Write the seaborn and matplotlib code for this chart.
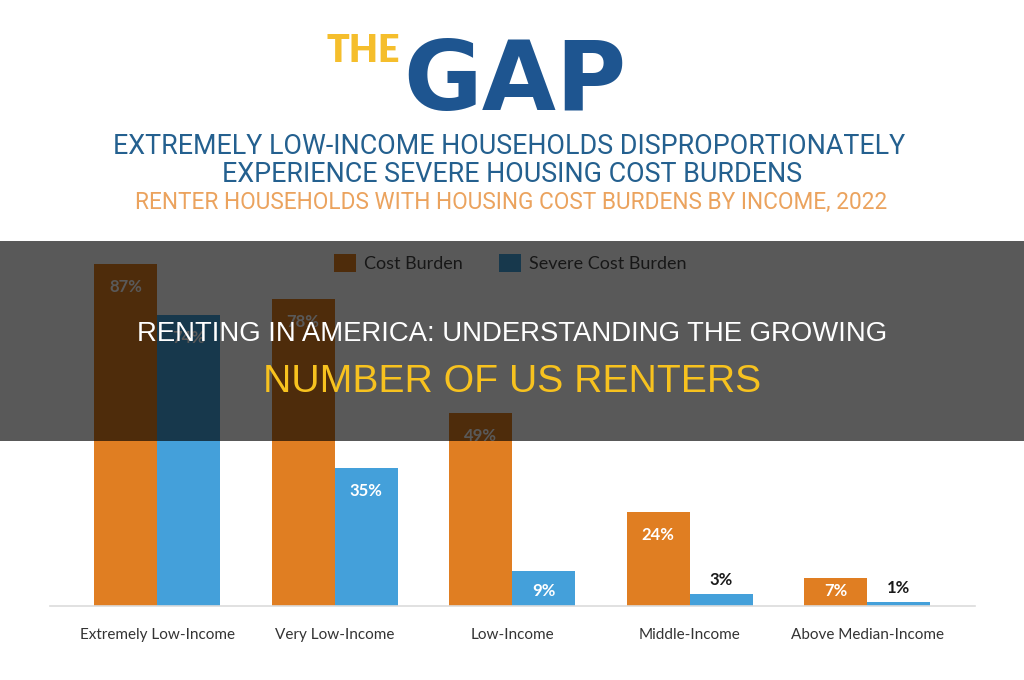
import matplotlib
matplotlib.use("Agg")
import matplotlib.pyplot as plt
import seaborn as sns
import pandas as pd
from matplotlib.patches import Rectangle, Patch

categories = ["Extremely Low-Income", "Very Low-Income", "Low-Income",
              "Middle-Income", "Above Median-Income"]
cost_burden = [87, 78, 49, 24, 7]
severe_burden = [74, 35, 9, 3, 1]
series_names = ["Cost Burden", "Severe Cost Burden"]
value_labels_cost = ["87%", "78%", "49%", "24%", "7%"]
value_labels_severe = ["74%", "35%", "9%", "3%", "1%"]

ORANGE = "#E07E22"
BLUE = "#44A0DA"
NAVY = "#1E5590"

df = pd.DataFrame({
    "category": categories * 2,
    "value": cost_burden + severe_burden,
    "series": [series_names[0]] * len(categories) + [series_names[1]] * len(categories),
})

sns.set_theme(style="white")
plt.rcParams["font.family"] = ["Lato", "DejaVu Sans"]

W, H = 1024, 680
fig = plt.figure(figsize=(W / 100, H / 100), dpi=100)
fig.patch.set_facecolor("white")

def fx(px):
    return px / W

def fy(py):
    return 1 - py / H

# axes: x 50..975, baseline at y=606, scale 3.93 px per %
ax_left, ax_right = 50, 975
base_y = 606
ymax = 95
px_per_unit = 3.93
top_y = base_y - ymax * px_per_unit
ax = fig.add_axes([fx(ax_left), fy(base_y), fx(ax_right - ax_left), (base_y - top_y) / H])

sns.barplot(data=df, x="category", y="value", hue="series",
            palette=[ORANGE, BLUE], width=0.71, saturation=1, ax=ax,
            order=categories, hue_order=series_names, legend=False,
            linewidth=0, edgecolor="none")

ax.set_xlim(-0.603, 4.608)
ax.set_ylim(0, ymax)
ax.set_xlabel("")
ax.set_ylabel("")
ax.set_yticks([])
for s in ["top", "left", "right"]:
    ax.spines[s].set_visible(False)
ax.spines["bottom"].set_color("#dcdcdc")
ax.spines["bottom"].set_linewidth(1.2)
ax.tick_params(axis="x", length=0, pad=16, labelsize=11, labelcolor="#333333")

# value labels
half = 0.71 / 2
inside_drop = 23 / px_per_unit
inside_floor = 15 / px_per_unit
for i in range(len(categories)):
    for vals, labs, off in ((cost_burden, value_labels_cost, -half / 2),
                            (severe_burden, value_labels_severe, half / 2)):
        v = vals[i]
        x = i + off
        if v >= 5:
            ax.text(x, max(v - inside_drop, inside_floor), labs[i],
                    ha="center", va="center", color="white", fontsize=12,
                    fontweight="bold")
        else:
            ax.annotate(labs[i], (x, v), xytext=(0, 10), textcoords="offset points",
                        ha="center", va="center", color="#1a1a1a", fontsize=12,
                        fontweight="bold")

# legend
handles = [Patch(facecolor=ORANGE, edgecolor="none"), Patch(facecolor=BLUE, edgecolor="none")]
fig.legend(handles, series_names, loc="center", bbox_to_anchor=(fx(510), fy(263)),
           ncol=2, frameon=False, fontsize=13, handlelength=1.22, handleheight=1.22,
           columnspacing=2.0, handletextpad=0.45, labelcolor="#444444")

# header
fig.text(fx(400), fy(62), "THE", color="#F5BE2C", fontsize=27, fontweight="heavy",
         ha="right", va="baseline", family=["Lato", "DejaVu Sans"])
fig.text(fx(403), fy(110), "GAP", color=NAVY, fontsize=69, fontweight="bold",
         ha="left", va="baseline", family=["DejaVu Sans"])

fig.text(fx(509), fy(146), "EXTREMELY LOW-INCOME HOUSEHOLDS DISPROPORTIONATELY",
         color="#24608F", fontsize=19.4, ha="center", va="center",
         family=["Roboto", "DejaVu Sans"])
fig.text(fx(512), fy(174), "EXPERIENCE SEVERE HOUSING COST BURDENS",
         color="#24608F", fontsize=19.4, ha="center", va="center",
         family=["Roboto", "DejaVu Sans"])
fig.text(fx(511), fy(202.5), "RENTER HOUSEHOLDS WITH HOUSING COST BURDENS BY INCOME, 2022",
         color="#EBA35E", fontsize=16.3, ha="center", va="center",
         family=["Roboto", "DejaVu Sans"])

# dark overlay band
fig.patches.append(Rectangle((0, fy(441)), 1, (441 - 241) / H, transform=fig.transFigure,
                             facecolor="black", alpha=0.65, edgecolor="none", zorder=10))
fig.text(fx(512), fy(334), "RENTING IN AMERICA: UNDERSTANDING THE GROWING",
         color="white", fontsize=19.8, ha="center", va="center", zorder=11,
         family=["Liberation Sans", "DejaVu Sans"])
fig.text(fx(512), fy(382.5), "NUMBER OF US RENTERS",
         color="#F7C21F", fontsize=28.2, ha="center", va="center", zorder=11,
         family=["Liberation Sans", "DejaVu Sans"])

fig.savefig("out.png", dpi=100, facecolor="white")
